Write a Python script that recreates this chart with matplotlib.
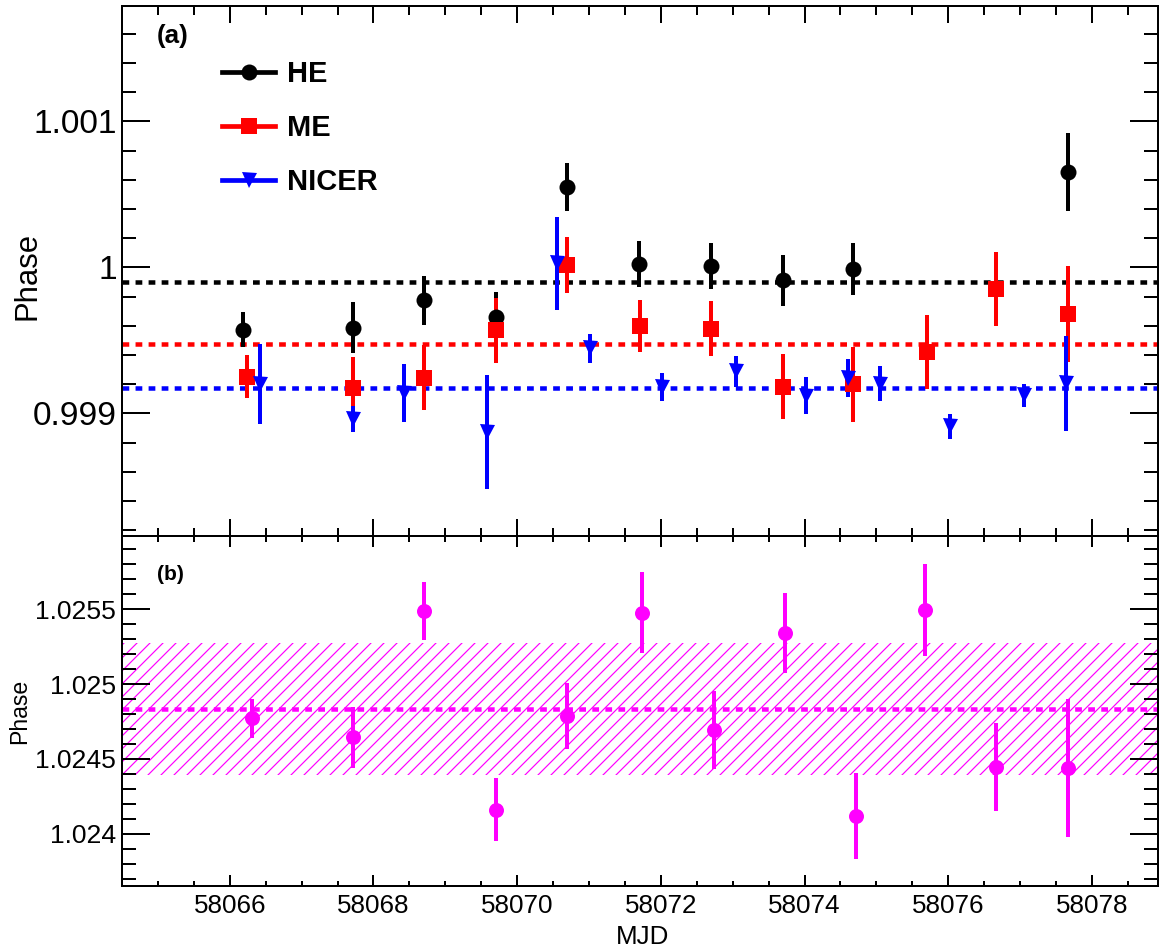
import matplotlib
matplotlib.use("Agg")
import matplotlib.pyplot as plt
from matplotlib.ticker import MultipleLocator, FuncFormatter
from matplotlib.lines import Line2D

DPI = 78
W, H = 1162, 951


def px(n):
    # pixel size -> points at this dpi
    return n * 72.0 / DPI


# Panel (a): phases of the three instruments
he_mjd = [58066.18, 58067.71, 58068.70, 58069.70, 58070.70, 58071.70,
          58072.70, 58073.70, 58074.68, 58077.67]
he_phase = [0.999573, 0.999587, 0.999774, 0.999658, 1.000552, 1.000024,
            1.000009, 0.999910, 0.999986, 1.000653]
he_err = [0.00012, 0.000176, 0.000167, 0.00017, 0.000165, 0.000156,
          0.000157, 0.000175, 0.000178, 0.000265]

me_mjd = [58066.245, 58067.71, 58068.70, 58069.70, 58070.70, 58071.71,
          58072.70, 58073.70, 58074.68, 58075.70, 58076.67, 58077.67]
me_phase = [0.999250, 0.999175, 0.999245, 0.999568, 1.000017, 0.999599,
            0.999580, 0.999182, 0.999200, 0.999418, 0.999853, 0.999682]
me_err = [0.000148, 0.00021, 0.00022, 0.00022, 0.000193, 0.00018,
          0.000189, 0.000222, 0.000256, 0.000253, 0.000255, 0.00033]

nicer_mjd = [58066.42, 58067.72, 58068.43, 58069.585, 58070.55, 58071.01,
             58072.02, 58073.05, 58074.02, 58074.60, 58075.05, 58076.02,
             58077.05, 58077.64]
nicer_phase = [0.999198, 0.998962, 0.999140, 0.998873, 1.000028, 0.999446,
               0.999179, 0.999287, 0.999120, 0.999242, 0.999203, 0.998910,
               0.999124, 0.999205]
nicer_err = [0.000274, 0.00009, 0.000197, 0.000389, 0.000318, 0.0001,
             0.000094, 0.000106, 0.000126, 0.00013, 0.00012, 0.000087,
             0.00008, 0.000325]

he_mean = 0.999903
me_mean = 0.999474
nicer_mean = 0.999172

# Panel (b)
ratio_mjd = [58066.31, 58067.71, 58068.70, 58069.70, 58070.70, 58071.74,
             58072.74, 58073.73, 58074.72, 58075.68, 58076.67, 58077.67]
ratio_phase = [1.024770, 1.024644, 1.025489, 1.024161, 1.024788, 1.025478,
               1.024695, 1.025341, 1.024119, 1.025493, 1.024447, 1.024440]
ratio_err = [0.00013, 0.000205, 0.000194, 0.00021, 0.000221, 0.000269,
             0.00026, 0.000269, 0.000288, 0.000307, 0.000295, 0.00046]
ratio_mean = 1.024835
ratio_band = 0.00044

XLIM = (58064.5, 58078.92)

plt.rcParams['font.family'] = ['Liberation Sans', 'DejaVu Sans']
plt.rcParams['hatch.linewidth'] = px(1.2)

fig = plt.figure(figsize=(W / DPI, H / DPI), dpi=DPI)
L, R = 122, 1158
ax1 = fig.add_axes([L / W, 1 - 536 / H, (R - L) / W, (536 - 6) / H])
ax2 = fig.add_axes([L / W, 1 - 886 / H, (R - L) / W, (886 - 536) / H])

fmt = FuncFormatter(lambda v, p: "%g" % v)
dash = (0, (1.5, 1.4))


def style(ax, ymaj, ymin, xlen, ylen):
    ax.set_xlim(XLIM)
    ax.xaxis.set_major_locator(MultipleLocator(2))
    ax.xaxis.set_minor_locator(MultipleLocator(0.5))
    ax.yaxis.set_major_locator(MultipleLocator(ymaj))
    ax.yaxis.set_minor_locator(MultipleLocator(ymin))
    ax.xaxis.set_major_formatter(fmt)
    ax.yaxis.set_major_formatter(fmt)
    ax.tick_params(which="both", direction="in", top=True, right=True,
                   width=px(2), color="k")
    ax.tick_params(axis="x", which="major", length=px(xlen))
    ax.tick_params(axis="x", which="minor", length=px(xlen / 2))
    ax.tick_params(axis="y", which="major", length=px(ylen))
    ax.tick_params(axis="y", which="minor", length=px(ylen / 2))
    for s in ax.spines.values():
        s.set_linewidth(px(2))


# Panel (a)
style(ax1, 0.001, 0.0002, 17, 28)
ax1.set_ylim(0.99816, 1.00179)
ax1.tick_params(axis="x", labelbottom=False)
ax1.tick_params(axis="y", labelsize=px(33.5), pad=px(5))

ax1.axhline(he_mean, color="black", ls=dash, lw=px(4.5))
ax1.axhline(me_mean, color="red", ls=dash, lw=px(4.5))
ax1.axhline(nicer_mean, color="blue", ls=dash, lw=px(4.5))

ax1.errorbar(he_mjd, he_phase, yerr=he_err, fmt="o", color="black",
             ms=px(16), mew=0, elinewidth=px(4), capsize=0)
ax1.errorbar(me_mjd, me_phase, yerr=me_err, fmt="s", color="red",
             ms=px(16), mew=0, elinewidth=px(4), capsize=0)
ax1.errorbar(nicer_mjd, nicer_phase, yerr=nicer_err, fmt="v", color="blue",
             ms=px(15), mew=0, elinewidth=px(4), capsize=0)

ax1.set_ylabel("Phase", fontsize=px(31), va="center")
ax1.yaxis.set_label_coords((28 - L) / (R - L), 0.49)
ax1.text(0.0338, 0.9434, "(a)", transform=ax1.transAxes, fontsize=px(26),
         fontweight="bold", va="center", ha="left")

handles = [
    Line2D([], [], color="black", marker="o", ms=px(16), mew=0, lw=px(4.7)),
    Line2D([], [], color="red", marker="s", ms=px(16), mew=0, lw=px(4.7)),
    Line2D([], [], color="blue", marker="v", ms=px(15), mew=0, lw=px(4.7)),
]
ax1.legend(handles, ["HE", "ME", "NICER"], loc="upper left",
           bbox_to_anchor=((222 - L) / (R - L), 1 - (60 - 6) / 530),
           frameon=False, borderpad=0, borderaxespad=0,
           handlelength=1.83, handletextpad=0.41, labelspacing=0.9,
           prop={"weight": "bold", "size": px(29)})

# Panel (b)
style(ax2, 0.0005, 0.0001, 11, 28)
ax2.set_ylim(1.02365, 1.02599)
ax2.tick_params(axis="y", labelsize=px(26.5), pad=px(6))
ax2.tick_params(axis="x", labelsize=px(26), pad=px(8))

ax2.axhspan(ratio_mean - ratio_band, ratio_mean + ratio_band,
            facecolor="none", edgecolor="magenta", hatch="//", lw=0)
ax2.axhline(ratio_mean, color="magenta", ls=dash, lw=px(4.5))
ax2.errorbar(ratio_mjd, ratio_phase, yerr=ratio_err, fmt="o",
             color="magenta", ms=px(15), mew=0, elinewidth=px(4), capsize=0)

ax2.set_ylabel("Phase", fontsize=px(23), va="center")
ax2.yaxis.set_label_coords((20 - L) / (R - L), 0.5)
ax2.set_xlabel("MJD", fontsize=px(26), va="center")
ax2.xaxis.set_label_coords((643 - L) / (R - L), -(937 - 886) / 350)
ax2.text(0.0338, 0.889, "(b)", transform=ax2.transAxes, fontsize=px(21),
         fontweight="bold", va="center", ha="left")

fig.savefig("out.png", dpi=DPI)
